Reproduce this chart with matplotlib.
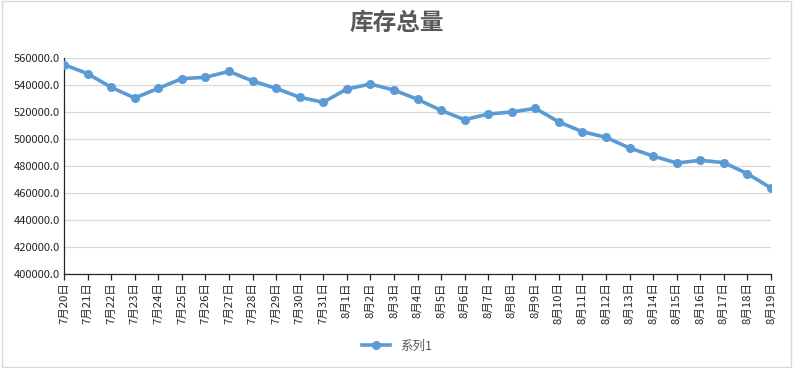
import matplotlib
matplotlib.use("Agg")
import matplotlib.pyplot as plt
from matplotlib.patches import Rectangle

plt.rcParams['font.family'] = ['Noto Sans CJK SC', 'DejaVu Sans']

dates = (["7月%d日" % d for d in range(20, 32)] +
         ["8月%d日" % d for d in range(1, 20)])
stock = [555100, 548400, 538300, 530400, 537500, 544700, 545700, 550100,
         543000, 537500, 530900, 527200, 537000, 540700, 536300, 529400,
         521200, 514300, 518500, 520000, 522700, 512600, 505400, 501200,
         493300, 487400, 482200, 484200, 482500, 474300, 463700]
series_name = "系列1"
title = "库存总量"

fig = plt.figure(figsize=(7.93, 3.68), dpi=100)
ax = fig.add_axes([64 / 793, 1 - 274 / 368, 707 / 793, 216 / 368])

x = list(range(len(dates)))
ax.plot(x, stock, color="#5B9BD5", linewidth=2.6, marker="o",
        markersize=5.5, label=series_name, zorder=3)

ax.set_xlim(0, len(dates) - 1)
ax.set_ylim(400000, 560000)
ax.set_yticks(range(400000, 560001, 20000))
ax.set_yticklabels(["%.1f" % v for v in range(400000, 560001, 20000)],
                   fontsize=8, color="#262626")
ax.set_xticks(x)
ax.set_xticklabels(dates, rotation=90, fontsize=8.2, color="#262626")
ax.grid(axis="y", color="#D9D9D9", linewidth=0.9)
ax.set_axisbelow(True)
ax.tick_params(axis="y", length=0, pad=3)
ax.tick_params(axis="x", length=4, width=0.9, color="#262626", pad=2)
for s in ("top", "right"):
    ax.spines[s].set_visible(False)
for s in ("left", "bottom"):
    ax.spines[s].set_color("#262626")
    ax.spines[s].set_linewidth(0.9)

fig.text(397 / 793, 1 - 23 / 368, title, ha="center", va="center",
         fontsize=17, color="#595959", fontweight="bold")

fig.legend(loc="center", bbox_to_anchor=(397 / 793, 1 - 346 / 368),
           frameon=False, fontsize=9, handlelength=2.2,
           labelcolor="#595959")

fig.patches.append(Rectangle((0.002, 0.004), 0.995, 0.993, transform=fig.transFigure,
                             fill=False, edgecolor="#D9D9D9", linewidth=1))

fig.savefig("out.png", dpi=100)
